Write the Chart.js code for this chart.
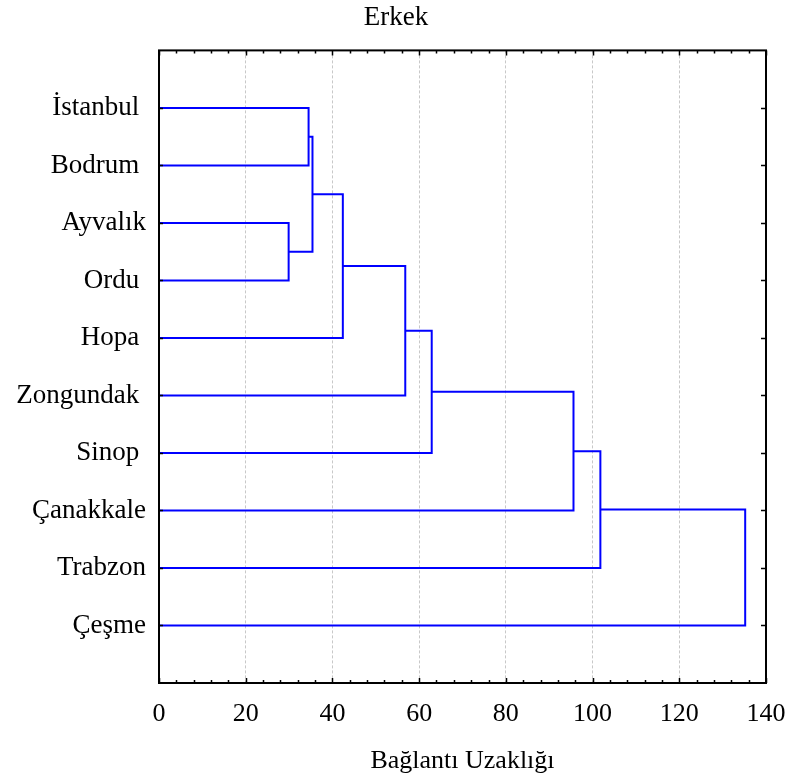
<!DOCTYPE html>
<html>
<head>
<meta charset="utf-8">
<script src="https://cdn.jsdelivr.net/npm/chart.js@4/dist/chart.umd.min.js"></script>
<style>
html,body{margin:0;padding:0;background:#fff;}
#wrap{width:792px;height:778px;position:relative;}
</style>
</head>
<body>
<div id="wrap"><canvas id="c"></canvas></div>
<script>
// Leaves (top to bottom)
const leaves = ['İstanbul ', 'Bodrum ', 'Ayvalık', 'Ordu ', 'Hopa ', 'Zongundak ', 'Sinop ', 'Çanakkale', 'Trabzon', 'Çeşme'];
// Merges: cluster ids 0-9 are leaves, merge k creates cluster 10+k
const mergeA = [0, 2, 10, 12, 13, 14, 15, 16, 17];
const mergeB = [1, 3, 11, 4, 5, 6, 7, 8, 9];
const mergeHeight = [34.5, 29.9, 35.4, 42.4, 56.8, 62.9, 95.6, 101.8, 135.2];
const xTicks = [0, 20, 40, 60, 80, 100, 120, 140];

const FONT = "'Liberation Serif', 'Times New Roman', serif";
const BLUE = '#0000ff';

// dendrogram layout positions
const pos = leaves.map((_, i) => i);
const hgt = leaves.map(() => 0);
const datasets = [];
mergeHeight.forEach((h, k) => {
  const a = mergeA[k], b = mergeB[k];
  const ya = pos[a], yb = pos[b];
  datasets.push({
    data: [{x: hgt[a], y: ya}, {x: h, y: ya}, {x: h, y: yb}, {x: hgt[b], y: yb}],
    showLine: true, borderColor: BLUE, borderWidth: 2, pointRadius: 0,
    fill: false, tension: 0
  });
  pos.push((ya + yb) / 2);
  hgt.push(h);
});

const frame = {
  id: 'frame',
  afterDatasetsDraw(chart) {
    const {ctx, chartArea: a, scales: {x, y}} = chart;
    ctx.save();
    ctx.strokeStyle = '#000';
    ctx.lineWidth = 2;
    ctx.strokeRect(a.left, a.top, a.right - a.left, a.bottom - a.top);
    ctx.lineWidth = 1.5;
    ctx.beginPath();
    for (let v = 0; v <= 140; v += 4) {
      const px = Math.round(x.getPixelForValue(v)) + 0.5;
      const len = (v % 20 === 0) ? 5 : 3;
      ctx.moveTo(px, a.bottom); ctx.lineTo(px, a.bottom - len);
      ctx.moveTo(px, a.top); ctx.lineTo(px, a.top + len);
    }
    leaves.forEach((_, i) => {
      const py = Math.round(y.getPixelForValue(i)) + 0.5;
      ctx.moveTo(a.left, py); ctx.lineTo(a.left + 4, py);
      ctx.moveTo(a.right, py); ctx.lineTo(a.right - 5, py);
    });
    ctx.stroke();
    ctx.restore();
  }
};

new Chart(document.getElementById('c'), {
  type: 'scatter',
  data: {datasets},
  plugins: [frame],
  options: {
    responsive: true,
    maintainAspectRatio: false,
    animation: false,
    layout: {padding: {left: 0, right: 0, top: 0, bottom: 0}},
    plugins: {
      legend: {display: false},
      tooltip: {enabled: false},
      title: {
        display: true, text: 'Erkek', color: '#000',
        font: {family: FONT, size: 27, weight: 'normal'},
        padding: {top: 2, bottom: 16}
      }
    },
    scales: {
      x: {
        type: 'linear', min: 0, max: 140,
        afterBuildTicks(s) { s.ticks = xTicks.map(v => ({value: v})); },
        afterFit(s) { s.height = 95; s.paddingRight = 26; s.paddingLeft = 0; },
        grid: {
          display: true, drawTicks: false,
          color: c => (c.tick && (c.tick.value === 0 || c.tick.value === 140)) ? 'rgba(0,0,0,0)' : '#c8c8c8',
          lineWidth: 1
        },
        border: {display: false, dash: [3, 2]},
        ticks: {color: '#000', font: {family: FONT, size: 26}, padding: 16, maxRotation: 0, autoSkip: false},
        title: {
          display: true, text: 'Bağlantı Uzaklığı', color: '#000',
          font: {family: FONT, size: 26}, padding: {top: 0, bottom: 1}
        }
      },
      y: {
        type: 'linear', min: -1, max: 10, reverse: true,
        afterBuildTicks(s) { s.ticks = leaves.map((_, i) => ({value: i})); },
        afterFit(s) { s.width = 159; },
        grid: {display: false, drawTicks: false},
        border: {display: false},
        ticks: {
          color: '#000', font: {family: FONT, size: 27}, padding: 13, autoSkip: false,
          callback: v => leaves[v] !== undefined ? leaves[v] : ''
        }
      }
    }
  }
});
</script>
</body>
</html>
